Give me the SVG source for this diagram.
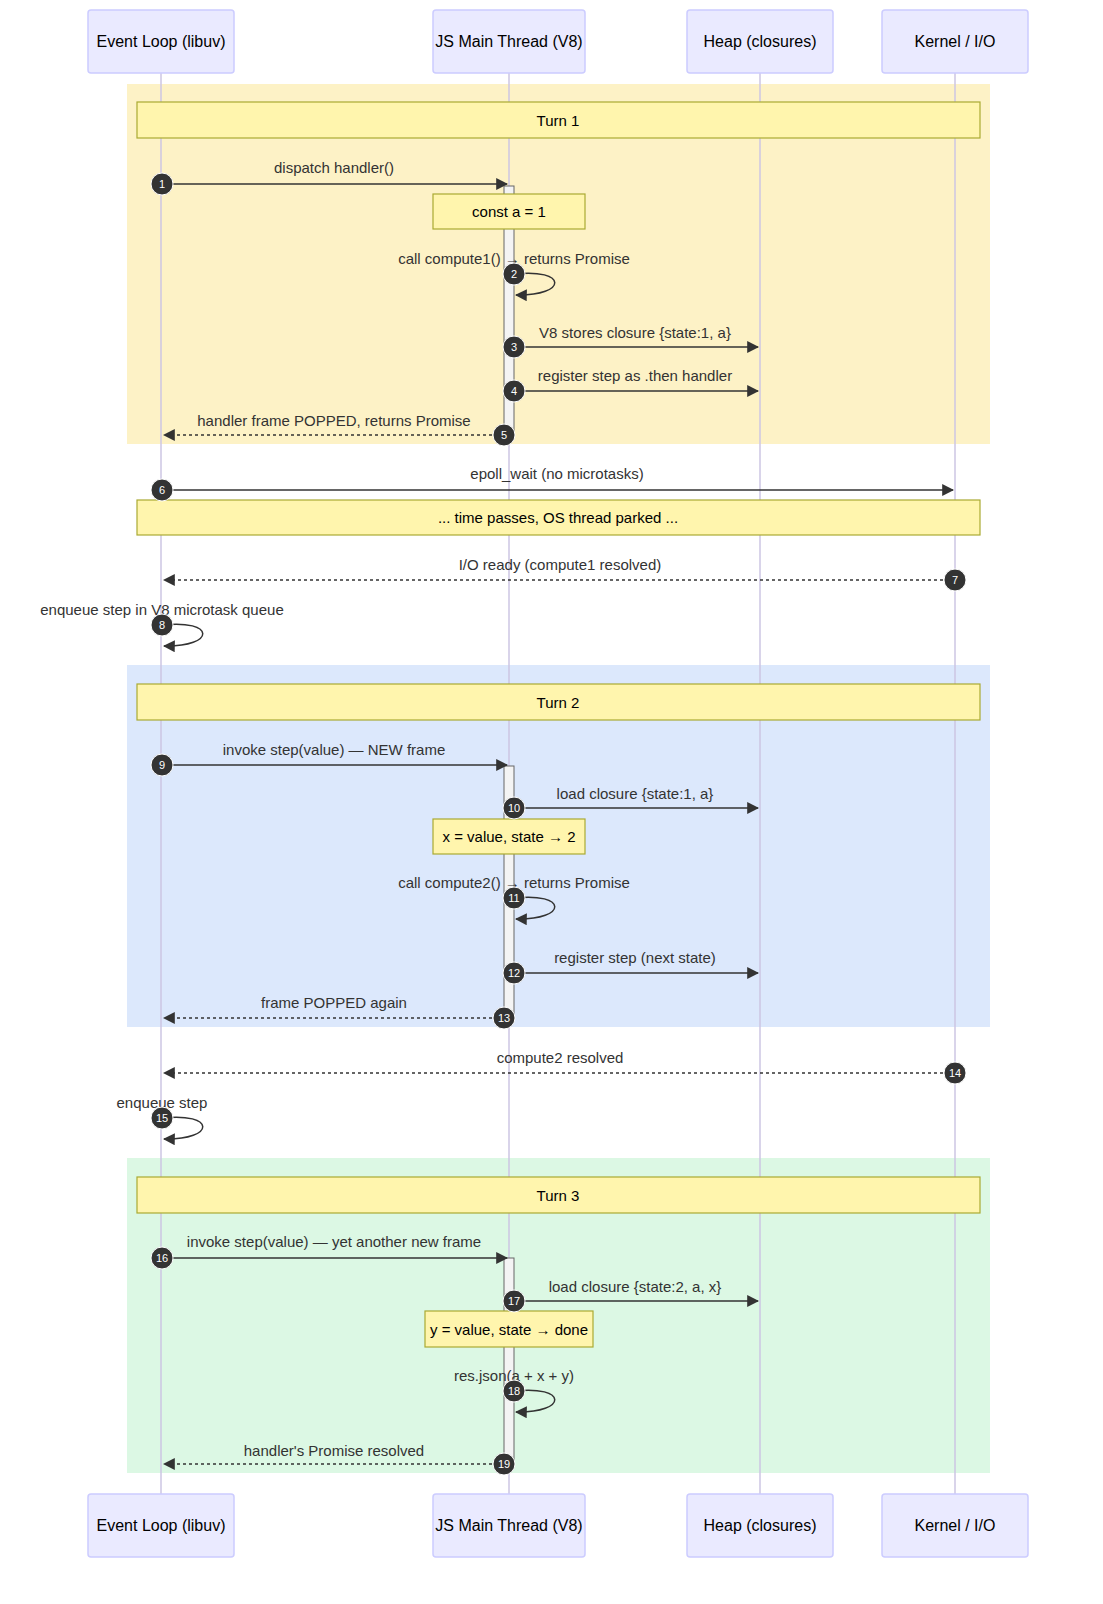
<svg xmlns="http://www.w3.org/2000/svg" width="1103" height="1604" viewBox="0 0 1103 1604">
<style>
text{font-family:"Liberation Sans",Arial,sans-serif;fill:#333}
.actor rect{fill:#eaeaff;stroke:#ccccff;stroke-width:1.5}
.actor text{font-size:16px;fill:#000;text-anchor:middle}
.life{stroke:#cdc6e3;stroke-width:1.5}
.note rect{fill:#fff5ad;stroke:#aaaa33;stroke-width:1.2}
.note text{font-size:15px;fill:#000;text-anchor:middle}
.msg{stroke:#333;stroke-width:1.5;fill:none}
.dash{stroke-dasharray:3,3}
.lbl{font-size:15px;text-anchor:middle}
.num circle{fill:#333;stroke:#fff;stroke-width:1}
.num text{fill:#fff;font-size:11px;text-anchor:middle}
.act{fill:#f4f4f4;stroke:#666;stroke-width:1}
</style>
<defs>
<marker id="ah" viewBox="0 0 10 10" refX="9" refY="5" markerWidth="8" markerHeight="8" orient="auto-start-reverse"><path d="M0,0 L10,5 L0,10 z" fill="#333"/></marker>
</defs>
<rect width="1103" height="1604" fill="#fff"/>
<g id="backgrounds">
<rect x="127" y="84" width="863" height="360" fill="#fdf2c6"/>
<rect x="127" y="665" width="863" height="362" fill="#dce8fc"/>
<rect x="127" y="1158" width="863" height="315" fill="#dcf8e4"/>
</g>
<g id="lifelines">
<line class="life" x1="161" y1="73" x2="161" y2="1494"/>
<line class="life" x1="509" y1="73" x2="509" y2="1494"/>
<line class="life" x1="760" y1="73" x2="760" y2="1494"/>
<line class="life" x1="955" y1="73" x2="955" y2="1494"/>
</g>
<g id="actors">
<g class="actor" id="a-el"><rect x="88" y="10" width="146" height="63" rx="3"/><text x="161" y="47">Event Loop (libuv)</text></g>
<g class="actor" id="a-js"><rect x="433" y="10" width="152" height="63" rx="3"/><text x="509" y="47">JS Main Thread (V8)</text></g>
<g class="actor" id="a-heap"><rect x="687" y="10" width="146" height="63" rx="3"/><text x="760" y="47">Heap (closures)</text></g>
<g class="actor" id="a-k"><rect x="882" y="10" width="146" height="63" rx="3"/><text x="955" y="47">Kernel / I/O</text></g>
<g class="actor" id="b-el"><rect x="88" y="1494" width="146" height="63" rx="3"/><text x="161" y="1531">Event Loop (libuv)</text></g>
<g class="actor" id="b-js"><rect x="433" y="1494" width="152" height="63" rx="3"/><text x="509" y="1531">JS Main Thread (V8)</text></g>
<g class="actor" id="b-heap"><rect x="687" y="1494" width="146" height="63" rx="3"/><text x="760" y="1531">Heap (closures)</text></g>
<g class="actor" id="b-k"><rect x="882" y="1494" width="146" height="63" rx="3"/><text x="955" y="1531">Kernel / I/O</text></g>
</g>
<g id="activations">
<rect class="act" x="504" y="186" width="10" height="250"/>
<rect class="act" x="504" y="766" width="10" height="252"/>
<rect class="act" x="504" y="1258" width="10" height="207"/>
</g>
<g id="notes">
<g class="note"><rect x="137" y="102" width="843" height="36"/><text x="558" y="126">Turn 1</text></g>
<g class="note"><rect x="433" y="194" width="152" height="35"/><text x="509" y="217">const a = 1</text></g>
<g class="note"><rect x="137" y="500" width="843" height="35"/><text x="558" y="523">... time passes, OS thread parked ...</text></g>
<g class="note"><rect x="137" y="684" width="843" height="36"/><text x="558" y="708">Turn 2</text></g>
<g class="note"><rect x="433" y="819" width="152" height="35"/><text x="509" y="842">x = value, state → 2</text></g>
<g class="note"><rect x="137" y="1177" width="843" height="36"/><text x="558" y="1201">Turn 3</text></g>
<g class="note"><rect x="425" y="1311" width="168" height="36"/><text x="509" y="1335">y = value, state → done</text></g>
</g>
<g id="connectors">
<line class="msg" x1="162" y1="184" x2="507" y2="184" marker-end="url(#ah)"/>
<text class="lbl" x="334" y="173">dispatch handler()</text>
<path class="msg" d="M514,274 C568,268 568,296 516,295" marker-end="url(#ah)"/>
<text class="lbl" x="514" y="264">call compute1() → returns Promise</text>
<line class="msg" x1="514" y1="347" x2="758" y2="347" marker-end="url(#ah)"/>
<text class="lbl" x="635" y="338">V8 stores closure {state:1, a}</text>
<line class="msg" x1="514" y1="391" x2="758" y2="391" marker-end="url(#ah)"/>
<text class="lbl" x="635" y="381">register step as .then handler</text>
<line class="msg dash" x1="504" y1="435" x2="164" y2="435" marker-end="url(#ah)"/>
<text class="lbl" x="334" y="426">handler frame POPPED, returns Promise</text>
<line class="msg" x1="162" y1="490" x2="953" y2="490" marker-end="url(#ah)"/>
<text class="lbl" x="557" y="479">epoll_wait (no microtasks)</text>
<line class="msg dash" x1="955" y1="580" x2="164" y2="580" marker-end="url(#ah)"/>
<text class="lbl" x="560" y="570">I/O ready (compute1 resolved)</text>
<path class="msg" d="M162,625 C216,619 216,647 164,646" marker-end="url(#ah)"/>
<text class="lbl" x="162" y="615">enqueue step in V8 microtask queue</text>
<line class="msg" x1="162" y1="765" x2="507" y2="765" marker-end="url(#ah)"/>
<text class="lbl" x="334" y="755">invoke step(value) — NEW frame</text>
<line class="msg" x1="514" y1="808" x2="758" y2="808" marker-end="url(#ah)"/>
<text class="lbl" x="635" y="799">load closure {state:1, a}</text>
<path class="msg" d="M514,898 C568,892 568,920 516,919" marker-end="url(#ah)"/>
<text class="lbl" x="514" y="888">call compute2() → returns Promise</text>
<line class="msg" x1="514" y1="973" x2="758" y2="973" marker-end="url(#ah)"/>
<text class="lbl" x="635" y="963">register step (next state)</text>
<line class="msg dash" x1="504" y1="1018" x2="164" y2="1018" marker-end="url(#ah)"/>
<text class="lbl" x="334" y="1008">frame POPPED again</text>
<line class="msg dash" x1="955" y1="1073" x2="164" y2="1073" marker-end="url(#ah)"/>
<text class="lbl" x="560" y="1063">compute2 resolved</text>
<path class="msg" d="M162,1118 C216,1112 216,1140 164,1139" marker-end="url(#ah)"/>
<text class="lbl" x="162" y="1108">enqueue step</text>
<line class="msg" x1="162" y1="1258" x2="507" y2="1258" marker-end="url(#ah)"/>
<text class="lbl" x="334" y="1247">invoke step(value) — yet another new frame</text>
<line class="msg" x1="514" y1="1301" x2="758" y2="1301" marker-end="url(#ah)"/>
<text class="lbl" x="635" y="1292">load closure {state:2, a, x}</text>
<path class="msg" d="M514,1391 C568,1385 568,1413 516,1412" marker-end="url(#ah)"/>
<text class="lbl" x="514" y="1381">res.json(a + x + y)</text>
<line class="msg dash" x1="504" y1="1464" x2="164" y2="1464" marker-end="url(#ah)"/>
<text class="lbl" x="334" y="1456">handler's Promise resolved</text>
</g>
<g id="numbers" class="num">
<g><circle cx="162" cy="184" r="11"/><text x="162" y="188">1</text></g>
<g><circle cx="514" cy="274" r="11"/><text x="514" y="278">2</text></g>
<g><circle cx="514" cy="347" r="11"/><text x="514" y="351">3</text></g>
<g><circle cx="514" cy="391" r="11"/><text x="514" y="395">4</text></g>
<g><circle cx="504" cy="435" r="11"/><text x="504" y="439">5</text></g>
<g><circle cx="162" cy="490" r="11"/><text x="162" y="494">6</text></g>
<g><circle cx="955" cy="580" r="11"/><text x="955" y="584">7</text></g>
<g><circle cx="162" cy="625" r="11"/><text x="162" y="629">8</text></g>
<g><circle cx="162" cy="765" r="11"/><text x="162" y="769">9</text></g>
<g><circle cx="514" cy="808" r="11"/><text x="514" y="812">10</text></g>
<g><circle cx="514" cy="898" r="11"/><text x="514" y="902">11</text></g>
<g><circle cx="514" cy="973" r="11"/><text x="514" y="977">12</text></g>
<g><circle cx="504" cy="1018" r="11"/><text x="504" y="1022">13</text></g>
<g><circle cx="955" cy="1073" r="11"/><text x="955" y="1077">14</text></g>
<g><circle cx="162" cy="1118" r="11"/><text x="162" y="1122">15</text></g>
<g><circle cx="162" cy="1258" r="11"/><text x="162" y="1262">16</text></g>
<g><circle cx="514" cy="1301" r="11"/><text x="514" y="1305">17</text></g>
<g><circle cx="514" cy="1391" r="11"/><text x="514" y="1395">18</text></g>
<g><circle cx="504" cy="1464" r="11"/><text x="504" y="1468">19</text></g>
</g>
</svg>
